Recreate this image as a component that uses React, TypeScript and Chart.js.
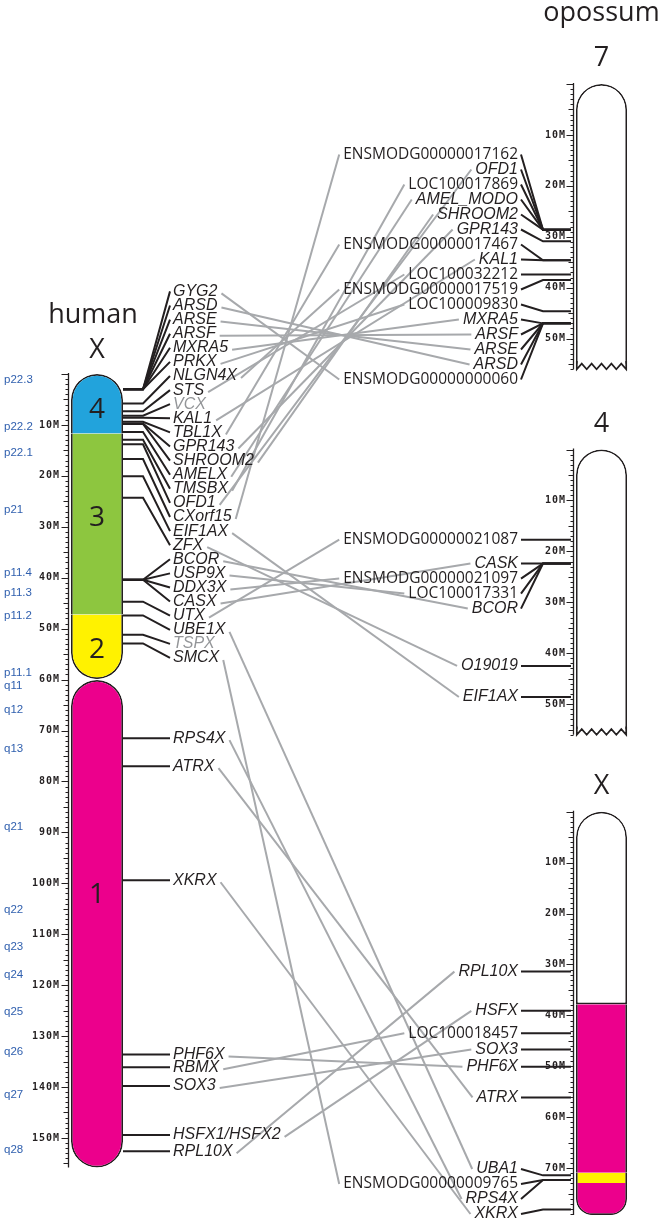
import React, { useEffect, useRef } from "react";
import { Chart, registerables } from "chart.js";

Chart.register(...registerables);

// ---------------- data ----------------
const HUMAN_SEG_NAMES = ["4", "3", "2", "1"];
const HUMAN_SEG_START = [0, 11.7, 47.2, 60.1];
const HUMAN_SEG_END = [11.7, 47.2, 59.9, 155.8];
const HUMAN_SEG_COLORS = ["#22a3dc", "#8dc63f", "#fff200", "#ec008c"];
const HUMAN_SEG_LABEL_MB = [7.1, 28.3, 54.2, 102.3];

const HUMAN_BANDS = ["p22.3", "p22.2", "p22.1", "p21", "p11.4", "p11.3", "p11.2", "p11.1", "q11", "q12", "q13", "q21", "q22", "q23", "q24", "q25", "q26", "q27", "q28"];
const HUMAN_BAND_MB = [1.2, 10.3, 15.4, 26.6, 39.1, 42.9, 47.5, 58.7, 61.3, 65.9, 73.5, 88.9, 105.3, 112.5, 118.0, 125.2, 133.0, 141.5, 152.4];

const HUMAN_GENES = ["GYG2", "ARSD", "ARSE", "ARSF", "MXRA5", "PRKX", "NLGN4X", "STS", "VCX", "KAL1", "TBL1X", "GPR143", "SHROOM2", "AMELX", "TMSBX", "OFD1", "CXorf15", "EIF1AX", "ZFX", "BCOR", "USP9X", "DDX3X", "CASX", "UTX", "UBE1X", "TSPX", "SMCX", "RPS4X", "ATRX", "XKRX", "PHF6X", "RBMX", "SOX3", "HSFX1/HSFX2", "RPL10X"];
const HUMAN_GENE_MB = [3.0, 3.0, 3.0, 3.0, 3.0, 3.0, 5.8, 7.3, 8.2, 8.6, 9.4, 9.7, 9.8, 11.4, 12.9, 13.8, 16.7, 20.1, 24.3, 40.4, 40.4, 40.4, 40.4, 44.7, 47.4, 51.2, 52.9, 71.5, 77.0, 99.4, 133.6, 136.1, 139.8, 149.4, 152.6];
const HUMAN_GRAY_GENES = ["VCX", "TSPX"];

const OPO7_GENES = ["ENSMODG00000017162", "OFD1", "LOC100017869", "AMEL_MODO", "SHROOM2", "GPR143", "ENSMODG00000017467", "KAL1", "LOC100032212", "ENSMODG00000017519", "LOC100009830", "MXRA5", "ARSF", "ARSE", "ARSD", "ENSMODG00000000060"];
const OPO7_MB = [28.6, 28.6, 28.6, 28.6, 28.6, 30.9, 34.6, 34.6, 37.4, 38.5, 44.6, 47.0, 47.0, 47.0, 47.0, 47.0];

const OPO4_GENES = ["ENSMODG00000021087", "CASK", "ENSMODG00000021097", "LOC100017331", "BCOR", "O19019", "EIF1AX"];
const OPO4_MB = [17.7, 22.4, 22.4, 22.4, 22.4, 42.5, 48.6];

const OPOX_GENES = ["RPL10X", "HSFX", "LOC100018457", "SOX3", "PHF6X", "ATRX", "UBA1", "ENSMODG00000009765", "RPS4X", "XKRX"];
const OPOX_MB = [31.4, 39.1, 43.5, 46.7, 50.1, 56.1, 71.4, 72.3, 72.3, 78.1];

const OPO_CHROM_NAMES = ["7", "4", "X"];
const OPO_SHOWN_LEN = [56, 56, 79.2];
const OPO_TRUNCATED = [true, true, false];

const OPOX_SEG_START = [0, 37.8, 70.9, 72.9];
const OPOX_SEG_END = [37.8, 70.9, 72.9, 79.2];
const OPOX_SEG_COLORS = ["#ffffff", "#ec008c", "#fff200", "#ec008c"];

const LINK_HUMAN = ["GYG2", "ARSD", "ARSE", "ARSF", "MXRA5", "PRKX", "NLGN4X", "STS", "KAL1", "TBL1X", "GPR143", "SHROOM2", "AMELX", "TMSBX", "OFD1", "CXorf15", "EIF1AX", "ZFX", "BCOR", "USP9X", "DDX3X", "CASX", "UTX", "UBE1X", "SMCX", "RPS4X", "ATRX", "XKRX", "PHF6X", "RBMX", "SOX3", "HSFX1/HSFX2", "RPL10X"];
const LINK_OPO_CHROM = ["7", "7", "7", "7", "7", "7", "7", "7", "7", "7", "7", "7", "7", "7", "7", "7", "4", "4", "4", "4", "4", "4", "4", "X", "X", "X", "X", "X", "X", "X", "X", "X", "X"];
const LINK_OPO = ["ENSMODG00000000060", "ARSD", "ARSE", "ARSF", "MXRA5", "LOC100009830", "ENSMODG00000017519", "LOC100032212", "KAL1", "ENSMODG00000017467", "GPR143", "SHROOM2", "AMEL_MODO", "LOC100017869", "OFD1", "ENSMODG00000017162", "EIF1AX", "O19019", "BCOR", "LOC100017331", "ENSMODG00000021097", "CASK", "ENSMODG00000021087", "UBA1", "ENSMODG00000009765", "RPS4X", "ATRX", "XKRX", "PHF6X", "LOC100018457", "SOX3", "HSFX", "RPL10X"];

// ---------------- layout / style ----------------
const W = 662;
const H = 1224;
const PX_PER_MB = 5.093;
const HUMAN_ZERO_PX = 374;
const OPO_ZERO_PX = [84, 449.5, 811.7];

const HUMAN_CX = 97;
const HUMAN_W = 52;
const HUMAN_RULER_X = 68;
const HUMAN_TICK_LABEL_X = 60;
const HUMAN_LEADER_START_X = 123;
const HUMAN_BEND_X = 143;
const HUMAN_LEADER_END_X = 170;
const HUMAN_LABEL_X = 173;
const BAND_LABEL_X = 4;

const OPO_CX = 601.5;
const OPO_W = 51;
const OPO_RULER_X = 573;
const OPO_TICK_LABEL_X = 566;
const OPO_LABEL_X = 518;
const OPO_LEADER_START_X = 521;
const OPO_BEND_X = 543;
const OPO_LEADER_END_X = 571;

const HUMAN_MIN_GAP = 12 / PX_PER_MB;
const HUMAN_STEP = 14.1 / PX_PER_MB;
const OPO_STEP = 15 / PX_PER_MB;
const OPO_PANEL_GAP_PX = 70;
const BOTTOM_MARGIN_PX = 10;

const INK = "#231f20";
const LINK_GRAY = "#a7a9ac";
const GENE_GRAY = "#939598";
const BAND_BLUE = "#2f5fae";
const OUTLINE_W = 1.7;

const TITLE_FONT = '27px "Open Sans", "Noto Sans", sans-serif';
const SEG_FONT = '28px "Open Sans", "Noto Sans", sans-serif';
const GENE_FONT = 'italic 16px "Liberation Sans", Arial, sans-serif';
const ID_FONT = '15.5px "Open Sans", "Noto Sans", sans-serif';
const TICK_FONT = 'bold 10px "DejaVu Sans Mono", "Liberation Mono", monospace';
const BAND_FONT = '11.5px "Liberation Sans", Arial, sans-serif';

const isId = (name: string) => /^(ENSMODG|LOC)/.test(name);

// centred clusters (least-squares placement)
function layoutCentered(pos: number[], minGap: number, step: number): number[] {
  const order = pos.map((_, i) => i).sort((a, b) => pos[a] - pos[b] || a - b);
  const blocks: { idx: number[]; sum: number; start: number }[] = [];
  for (const i of order) {
    blocks.push({ idx: [i], sum: pos[i], start: pos[i] });
    while (blocks.length > 1) {
      const b = blocks[blocks.length - 1];
      const a = blocks[blocks.length - 2];
      const aEnd = a.start + (a.idx.length - 1) * step;
      if (b.start - aEnd >= minGap - 1e-9) break;
      const idx = a.idx.concat(b.idx);
      const sum = a.sum + b.sum;
      blocks.splice(blocks.length - 2, 2, { idx, sum, start: sum / idx.length - ((idx.length - 1) * step) / 2 });
    }
  }
  const out: number[] = new Array(pos.length);
  for (const b of blocks) b.idx.forEach((i, k) => (out[i] = b.start + k * step));
  return out;
}

// push labels down, then pull back up under a lower bound
function layoutPushed(pos: number[], step: number, bound: number): number[] {
  const order = pos.map((_, i) => i).sort((a, b) => pos[a] - pos[b] || a - b);
  const l = order.map((i) => pos[i]);
  for (let k = 1; k < l.length; k++) l[k] = Math.max(l[k], l[k - 1] + step);
  for (let k = l.length - 1; k >= 0; k--) {
    const lim = k === l.length - 1 ? bound : l[k + 1] - step;
    l[k] = Math.min(l[k], lim);
  }
  const out: number[] = new Array(pos.length);
  order.forEach((i, k) => (out[i] = l[k]));
  return out;
}

function yScale(zeroPx: number) {
  return {
    type: "linear",
    reverse: true,
    display: false,
    offset: false,
    min: -zeroPx / PX_PER_MB,
    max: (H - zeroPx) / PX_PER_MB,
  };
}

function segDataset(
  yAxisID: string,
  cx: number,
  width: number,
  start: number,
  end: number,
  color: string,
  roundTop: boolean,
  roundBottom: boolean,
  borderTop: boolean,
  borderBottom: boolean
) {
  const r = width / 2;
  return {
    type: "bar",
    xAxisID: "x",
    yAxisID,
    data: [{ x: cx, y: [start, end] }],
    backgroundColor: color,
    borderColor: INK,
    borderWidth: { left: OUTLINE_W, right: OUTLINE_W, top: borderTop ? OUTLINE_W : 0, bottom: borderBottom ? OUTLINE_W : 0 },
    borderRadius: {
      topLeft: roundTop ? r : 0,
      topRight: roundTop ? r : 0,
      bottomLeft: roundBottom ? r : 0,
      bottomRight: roundBottom ? r : 0,
    },
    borderSkipped: false,
    inflateAmount: 0,
    barThickness: width,
    grouped: false,
    order: 2,
  };
}

function leaderDataset(yAxisID: string, pts: { x: number; y: number }[]) {
  return {
    type: "line",
    xAxisID: "x",
    yAxisID,
    data: pts,
    borderColor: INK,
    borderWidth: 2,
    pointRadius: 0,
    pointHoverRadius: 0,
    tension: 0,
    fill: false,
    order: 1,
  };
}

export default function App() {
  const ref = useRef<HTMLCanvasElement>(null);

  useEffect(() => {
    const canvas = ref.current;
    if (!canvas) return;

    const humanLabelMb = layoutCentered(HUMAN_GENE_MB, HUMAN_MIN_GAP, HUMAN_STEP);
    const opo = [
      { id: "y7", genes: OPO7_GENES, mb: OPO7_MB },
      { id: "y4", genes: OPO4_GENES, mb: OPO4_MB },
      { id: "yX", genes: OPOX_GENES, mb: OPOX_MB },
    ].map((c, k) => {
      const boundPx = k < OPO_ZERO_PX.length - 1 ? OPO_ZERO_PX[k + 1] - OPO_PANEL_GAP_PX : H - BOTTOM_MARGIN_PX;
      const bound = (boundPx - OPO_ZERO_PX[k]) / PX_PER_MB;
      return {
        ...c,
        name: OPO_CHROM_NAMES[k],
        len: OPO_SHOWN_LEN[k],
        truncated: OPO_TRUNCATED[k],
        labelMb: layoutPushed(c.mb, OPO_STEP, bound),
      };
    });

    const datasets: any[] = [];
    HUMAN_SEG_START.forEach((s, i) => {
      const first = i === 0;
      const last = i === HUMAN_SEG_START.length - 1;
      const roundTop = first || i === 3;
      const roundBottom = last || i === 2;
      datasets.push(
        segDataset("yH", HUMAN_CX, HUMAN_W, s, HUMAN_SEG_END[i], HUMAN_SEG_COLORS[i], roundTop, roundBottom, roundTop, roundBottom)
      );
    });
    opo.forEach((c) => {
      if (c.name === "X") {
        OPOX_SEG_START.forEach((s, i) => {
          const first = i === 0;
          const last = i === OPOX_SEG_START.length - 1;
          datasets.push(segDataset(c.id, OPO_CX, OPO_W, s, OPOX_SEG_END[i], OPOX_SEG_COLORS[i], first, last, first, first || last));
        });
      } else {
        datasets.push(segDataset(c.id, OPO_CX, OPO_W, 0, c.len, "#ffffff", true, false, true, false));
      }
    });
    HUMAN_GENES.forEach((g, i) => {
      const gy = HUMAN_GENE_MB[i];
      const ly = humanLabelMb[i];
      datasets.push(
        leaderDataset("yH", [
          { x: HUMAN_LEADER_START_X, y: gy },
          { x: HUMAN_BEND_X, y: gy },
          { x: HUMAN_LEADER_END_X, y: ly },
        ])
      );
    });
    opo.forEach((c) => {
      c.genes.forEach((g, i) => {
        datasets.push(
          leaderDataset(c.id, [
            { x: OPO_LEADER_START_X, y: c.labelMb[i] },
            { x: OPO_BEND_X, y: c.mb[i] },
            { x: OPO_LEADER_END_X, y: c.mb[i] },
          ])
        );
      });
    });

    const fontFor = (name: string) => (isId(name) ? ID_FONT : GENE_FONT);

    const drawRuler = (ctx: CanvasRenderingContext2D, chart: any, yId: string, rx: number, len: number, labelX: number) => {
      const ys = chart.scales[yId];
      const xs = chart.scales.x;
      const x = Math.round(xs.getPixelForValue(rx)) + 0.5;
      ctx.save();
      ctx.strokeStyle = INK;
      ctx.lineWidth = 1.3;
      ctx.beginPath();
      ctx.moveTo(x, ys.getPixelForValue(0) - 1);
      ctx.lineTo(x, ys.getPixelForValue(len));
      ctx.stroke();
      ctx.lineWidth = 1;
      ctx.beginPath();
      for (let m = 0; m <= Math.floor(len); m++) {
        const y = Math.round(ys.getPixelForValue(m)) + 0.5;
        const l = m % 10 === 0 ? 7 : m % 5 === 0 ? 5 : 3;
        ctx.moveTo(x - l, y);
        ctx.lineTo(x, y);
      }
      ctx.stroke();
      ctx.fillStyle = INK;
      ctx.font = TICK_FONT;
      (ctx as any).letterSpacing = "1px";
      ctx.textAlign = "right";
      ctx.textBaseline = "middle";
      const lx = xs.getPixelForValue(labelX);
      for (let m = 10; m <= len; m += 10) {
        ctx.fillText(`${m}M`, lx, ys.getPixelForValue(m));
      }
      (ctx as any).letterSpacing = "0px";
      ctx.restore();
    };

    const plugin = {
      id: "synteny",
      beforeDatasetsDraw(chart: any) {
        const ctx: CanvasRenderingContext2D = chart.ctx;
        const xs = chart.scales.x;
        drawRuler(ctx, chart, "yH", HUMAN_RULER_X, HUMAN_SEG_END[HUMAN_SEG_END.length - 1], HUMAN_TICK_LABEL_X);
        opo.forEach((c) => drawRuler(ctx, chart, c.id, OPO_RULER_X, c.len, OPO_TICK_LABEL_X));
        ctx.save();
        ctx.strokeStyle = LINK_GRAY;
        ctx.lineWidth = 2;
        LINK_HUMAN.forEach((hName, k) => {
          const hi = HUMAN_GENES.indexOf(hName);
          const c = opo.find((o) => o.name === LINK_OPO_CHROM[k]);
          if (hi < 0 || !c) return;
          const oi = c.genes.indexOf(LINK_OPO[k]);
          if (oi < 0) return;
          ctx.font = GENE_FONT;
          const hw = ctx.measureText(hName).width;
          ctx.font = fontFor(LINK_OPO[k]);
          const ow = ctx.measureText(LINK_OPO[k]).width;
          const x1 = xs.getPixelForValue(HUMAN_LABEL_X) + hw + 4;
          const y1 = chart.scales.yH.getPixelForValue(humanLabelMb[hi]) + 2;
          const x2 = xs.getPixelForValue(OPO_LABEL_X) - ow - 4;
          const y2 = chart.scales[c.id].getPixelForValue(c.labelMb[oi]);
          ctx.beginPath();
          ctx.moveTo(x1, y1);
          ctx.lineTo(x2, y2);
          ctx.stroke();
        });
        ctx.restore();
      },
      afterDatasetsDraw(chart: any) {
        const ctx: CanvasRenderingContext2D = chart.ctx;
        const xs = chart.scales.x;
        const yH = chart.scales.yH;
        ctx.save();
        ctx.strokeStyle = INK;
        ctx.lineWidth = OUTLINE_W;
        opo.forEach((c) => {
          if (!c.truncated) return;
          const ys = chart.scales[c.id];
          const left = xs.getPixelForValue(OPO_CX - OPO_W / 2) + 0.8;
          const right = xs.getPixelForValue(OPO_CX + OPO_W / 2) - 0.8;
          const n = 10;
          ctx.fillStyle = "#ffffff";
          ctx.fillRect(left - 2, ys.getPixelForValue(c.len - 1.1), right - left + 4, ys.getPixelForValue(c.len + 0.5) - ys.getPixelForValue(c.len - 1.1));
          ctx.beginPath();
          ctx.moveTo(left, ys.getPixelForValue(c.len - 1.6));
          for (let i = 0; i <= n; i++) {
            const x = left + ((right - left) * i) / n;
            const y = ys.getPixelForValue(i % 2 === 0 ? c.len : c.len - 1.1);
            ctx.lineTo(x, y);
          }
          ctx.lineTo(right, ys.getPixelForValue(c.len - 1.6));
          ctx.stroke();
        });
        ctx.fillStyle = INK;
        ctx.font = SEG_FONT;
        ctx.textAlign = "center";
        ctx.textBaseline = "middle";
        HUMAN_SEG_NAMES.forEach((n, i) => ctx.fillText(n, xs.getPixelForValue(HUMAN_CX), yH.getPixelForValue(HUMAN_SEG_LABEL_MB[i])));
        ctx.font = TITLE_FONT;
        ctx.textBaseline = "alphabetic";
        ctx.fillText("human", xs.getPixelForValue(HUMAN_CX - 4), yH.getPixelForValue(0) - 51);
        ctx.fillText("X", xs.getPixelForValue(HUMAN_CX), yH.getPixelForValue(0) - 16);
        ctx.fillText("opossum", xs.getPixelForValue(OPO_CX), chart.scales.y7.getPixelForValue(0) - 63);
        opo.forEach((c) => ctx.fillText(c.name, xs.getPixelForValue(OPO_CX), chart.scales[c.id].getPixelForValue(0) - 18));
        ctx.font = BAND_FONT;
        ctx.fillStyle = BAND_BLUE;
        ctx.textAlign = "left";
        ctx.textBaseline = "middle";
        HUMAN_BANDS.forEach((b, i) => ctx.fillText(b, xs.getPixelForValue(BAND_LABEL_X), yH.getPixelForValue(HUMAN_BAND_MB[i])));
        ctx.font = GENE_FONT;
        HUMAN_GENES.forEach((g, i) => {
          ctx.fillStyle = HUMAN_GRAY_GENES.includes(g) ? GENE_GRAY : INK;
          ctx.fillText(g, xs.getPixelForValue(HUMAN_LABEL_X), yH.getPixelForValue(humanLabelMb[i]));
        });
        ctx.textAlign = "right";
        ctx.fillStyle = INK;
        opo.forEach((c) => {
          const ys = chart.scales[c.id];
          c.genes.forEach((g, i) => {
            ctx.font = fontFor(g);
            ctx.fillText(g, xs.getPixelForValue(OPO_LABEL_X), ys.getPixelForValue(c.labelMb[i]));
          });
        });
        ctx.restore();
      },
    };

    const chart = new Chart(canvas, {
      type: "bar",
      data: { datasets },
      options: {
        responsive: false,
        animation: false,
        devicePixelRatio: 1,
        events: [],
        layout: { padding: 0 },
        plugins: { legend: { display: false }, tooltip: { enabled: false }, title: { display: false } },
        scales: {
          x: { type: "linear", min: 0, max: W, display: false, offset: false, grid: { offset: false } },
          yH: yScale(HUMAN_ZERO_PX),
          y7: yScale(OPO_ZERO_PX[0]),
          y4: yScale(OPO_ZERO_PX[1]),
          yX: yScale(OPO_ZERO_PX[2]),
        } as any,
      } as any,
      plugins: [plugin as any],
    } as any);

    return () => chart.destroy();
  }, []);

  return (
    <div style={{ position: "absolute", left: 0, top: 0, width: W, height: H, background: "#ffffff" }}>
      <canvas ref={ref} width={W} height={H} style={{ display: "block", width: W, height: H }} />
    </div>
  );
}
